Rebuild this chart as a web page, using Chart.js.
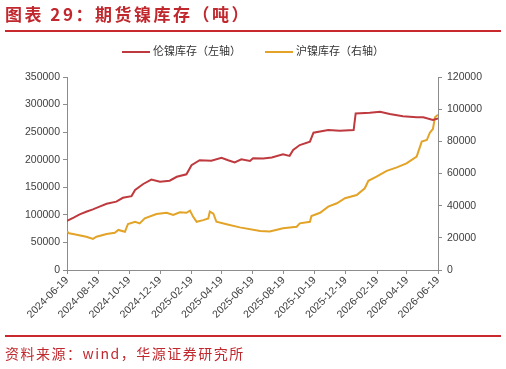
<!DOCTYPE html>
<html>
<head>
<meta charset="utf-8">
<script src="https://cdn.jsdelivr.net/npm/chart.js@4"></script>
<style>
    html, body { margin: 0; padding: 0; background: #fff; }
    #wrap { position: relative; width: 506px; height: 369px; overflow: hidden; }
    #chart { position: absolute; left: 0; top: 0; }
    .title {
        position: absolute; left: 5px; top: 3px;
        font: bold 17px "Noto Sans CJK SC", sans-serif; letter-spacing: 2.5px;
        color: #c0282e; white-space: nowrap; line-height: 22px;
    }
    .rule { position: absolute; left: 5px; width: 496px; height: 2px; background: #c8282e; }
    .legend { position: absolute; top: 42px; font: 11px "Noto Sans CJK SC", sans-serif; color: #333; white-space: nowrap; }
    .legend span.swatch { display: inline-block; width: 28px; height: 2px; vertical-align: middle; margin-right: 3px; }
    .source {
        position: absolute; left: 5px; top: 343px;
        font: 14px "Noto Sans CJK SC", sans-serif; color: #c0282e; letter-spacing: 1.5px; white-space: nowrap;
    }
</style>
</head>
<body>
<div id="wrap">
    <canvas id="chart" width="506" height="369"></canvas>
    <div class="title">图表 29：期货镍库存（吨）</div>
    <div class="rule" style="top:30px"></div>
    <div class="legend" style="left:122px"><span class="swatch" style="background:#be3a3f"></span>伦镍库存（左轴）</div>
    <div class="legend" style="left:265px"><span class="swatch" style="background:#e3a327"></span>沪镍库存（右轴）</div>
    <div class="rule" style="top:335px"></div>
    <div class="source">资料来源：wind，华源证券研究所</div>
</div>
<script>
    const START_DATE = '2024-06-19';

    const tickLabels = [
        '2024-06-19', '2024-08-19', '2024-10-19', '2024-12-19', '2025-02-19',
        '2025-04-19', '2025-06-19', '2025-08-19', '2025-10-19', '2025-12-19',
        '2026-02-19', '2026-04-19', '2026-06-19'
    ];

    // LME nickel stocks (left axis)
    const lmeDates = [
        '2024-06-19', '2024-07-02', '2024-07-14', '2024-07-28', '2024-08-09', '2024-08-22',
        '2024-09-05', '2024-09-24', '2024-10-07', '2024-10-24', '2024-10-31', '2024-11-16',
        '2024-12-02', '2024-12-19', '2025-01-07', '2025-01-21', '2025-02-09', '2025-02-19',
        '2025-03-07', '2025-03-30', '2025-04-19', '2025-05-02', '2025-05-15', '2025-05-28',
        '2025-06-14', '2025-06-20', '2025-07-10', '2025-07-27', '2025-08-18', '2025-08-31',
        '2025-09-07', '2025-09-20', '2025-10-10', '2025-10-17', '2025-11-15', '2025-12-08',
        '2026-01-04', '2026-01-08', '2026-02-05', '2026-02-25', '2026-03-16', '2026-04-11',
        '2026-05-08', '2026-05-21', '2026-06-09', '2026-06-19'
    ];
    const lmeStocks = [
        89000, 95000, 101000, 106000, 110000, 115000,
        120000, 124000, 131000, 134000, 145000, 156000,
        164000, 160000, 162000, 169000, 173500, 190000,
        199000, 198000, 203600, 199000, 195000, 200700,
        197600, 202500, 202000, 204000, 210000, 207000,
        217600, 226600, 232600, 249000, 253800, 252500,
        253800, 284000, 285000, 287000, 283000, 279000,
        277000, 277000, 272000, 275000
    ];

    // SHFE nickel stocks (right axis)
    const shfeDates = [
        '2024-06-19', '2024-06-23', '2024-07-01', '2024-07-27', '2024-08-09', '2024-08-16',
        '2024-09-05', '2024-09-21', '2024-09-28', '2024-10-11', '2024-10-17', '2024-10-31',
        '2024-11-09', '2024-11-19', '2024-12-12', '2025-01-01', '2025-01-14', '2025-01-27',
        '2025-02-09', '2025-02-16', '2025-02-22', '2025-03-01', '2025-03-14', '2025-03-24',
        '2025-03-27', '2025-04-03', '2025-04-09', '2025-04-29', '2025-05-25', '2025-07-04',
        '2025-07-23', '2025-08-18', '2025-09-14', '2025-09-20', '2025-10-10', '2025-10-13',
        '2025-10-30', '2025-11-15', '2025-12-02', '2025-12-18', '2026-01-10', '2026-01-26',
        '2026-02-02', '2026-02-18', '2026-03-10', '2026-03-30', '2026-04-18', '2026-05-08',
        '2026-05-18', '2026-05-28', '2026-06-03', '2026-06-09', '2026-06-13', '2026-06-19'
    ];
    const shfeStocks = [
        24000, 22800, 22400, 20700, 19300, 20700,
        22400, 23200, 24900, 23800, 28600, 30000,
        29000, 32100, 34800, 35600, 34200, 35900,
        35600, 36900, 33200, 30000, 31000, 32000,
        36300, 35000, 30000, 28400, 26500, 24200,
        24000, 25900, 26900, 29000, 30000, 33600,
        35600, 39400, 41500, 44600, 46600, 50800,
        55500, 58000, 61600, 63800, 66300, 70500,
        79800, 80800, 85400, 87700, 95000, 96500
    ];

    function dayOffset(dateText) {
        return (Date.parse(dateText) - Date.parse(START_DATE)) / 86400000;
    }

    function toPoints(dates, values) {
        return dates.map((d, i) => ({ x: dayOffset(d), y: values[i] }));
    }

    const AXIS_COLOR = '#8c8c8c';
    const TICK_FONT = { family: '"Liberation Sans", Arial, sans-serif', size: 10.5 };
    const tickPositions = tickLabels.map(dayOffset);

    new Chart(document.getElementById('chart'), {
        type: 'line',
        data: {
            datasets: [
                {
                    label: '伦镍库存（左轴）',
                    data: toPoints(lmeDates, lmeStocks),
                    borderColor: '#be3a3f',
                    borderWidth: 2,
                    pointRadius: 0,
                    tension: 0,
                    yAxisID: 'y'
                },
                {
                    label: '沪镍库存（右轴）',
                    data: toPoints(shfeDates, shfeStocks),
                    borderColor: '#e3a327',
                    borderWidth: 2,
                    pointRadius: 0,
                    tension: 0,
                    yAxisID: 'y1'
                }
            ]
        },
        options: {
            responsive: false,
            animation: false,
            layout: { padding: { top: 77, left: 0, right: 0, bottom: 0 } },
            plugins: {
                legend: { display: false },
                tooltip: { enabled: false }
            },
            scales: {
                x: {
                    type: 'linear',
                    min: 0,
                    max: dayOffset(tickLabels[tickLabels.length - 1]),
                    afterBuildTicks: scale => {
                        scale.ticks = tickPositions.map(v => ({ value: v }));
                    },
                    afterFit: scale => { scale.height = 99; },
                    ticks: {
                        autoSkip: false,
                        minRotation: 45,
                        maxRotation: 45,
                        color: '#404040',
                        font: TICK_FONT,
                        padding: 0,
                        callback: value => tickLabels[tickPositions.indexOf(value)] ?? ''
                    },
                    grid: { drawOnChartArea: false, drawTicks: true, tickLength: 4, color: AXIS_COLOR },
                    border: { color: AXIS_COLOR }
                },
                y: {
                    position: 'left',
                    min: 0,
                    max: 350000,
                    afterFit: scale => { scale.width = 67; },
                    ticks: { stepSize: 50000, color: '#404040', font: TICK_FONT, padding: 3, callback: v => String(v) },
                    grid: { drawOnChartArea: false, drawTicks: true, tickLength: 4, color: AXIS_COLOR },
                    border: { color: AXIS_COLOR }
                },
                y1: {
                    position: 'right',
                    min: 0,
                    max: 120000,
                    afterFit: scale => { scale.width = 68; },
                    ticks: { stepSize: 20000, color: '#404040', font: TICK_FONT, padding: 5, callback: v => String(v) },
                    grid: { drawOnChartArea: false, drawTicks: true, tickLength: 4, color: AXIS_COLOR },
                    border: { color: AXIS_COLOR }
                }
            }
        }
    });
</script>
</body>
</html>
